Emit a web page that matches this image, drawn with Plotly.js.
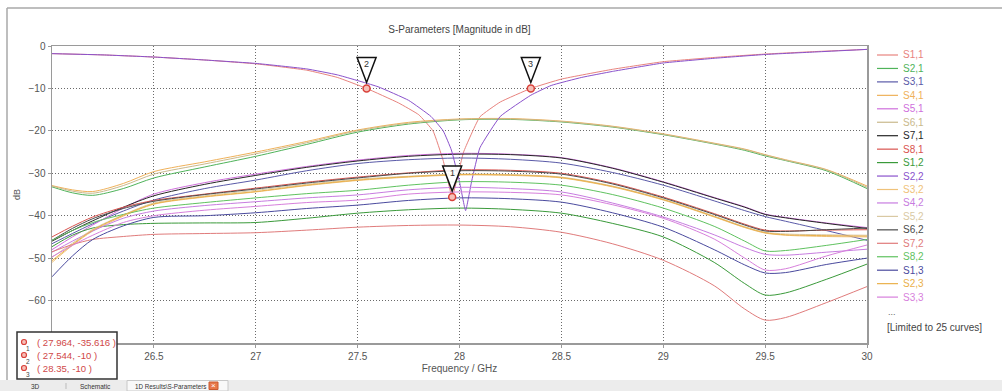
<!DOCTYPE html>
<html>
<head>
<meta charset="utf-8">
<script src="https://cdn.plot.ly/plotly-3.0.1.min.js"></script>
<style>html,body{margin:0;padding:0;background:#fff;}#chart{width:1002px;height:391px;}</style>
</head>
<body>
<div id="chart"></div>
<script>
// ---------------- DATA ----------------
const freq = [26, 26.1, 26.2, 26.35, 26.5, 26.75, 27, 27.25, 27.5, 27.75, 28, 28.25, 28.5, 28.75, 29, 29.25, 29.4, 29.5, 29.6, 29.8, 30];

const freqS11 = [26, 26.25, 26.5, 26.75, 27, 27.25, 27.4, 27.544, 27.7, 27.8, 27.87, 27.92, 27.964, 27.99, 28.02, 28.1, 28.2, 28.35, 28.5, 28.75, 29, 29.25, 29.5, 29.75, 30];
const s11 = [-1.8, -2.1, -2.6, -3.3, -4.2, -5.7, -7.4, -10, -13.4, -16.2, -20, -27, -35.616, -30.9, -25, -16.7, -13.2, -10, -7.8, -5.5, -3.7, -2.7, -1.9, -1.3, -0.8];

const freqS22 = [26, 26.25, 26.5, 26.75, 27, 27.25, 27.4, 27.6, 27.75, 27.86, 27.92, 27.96, 28.0, 28.03, 28.06, 28.1, 28.2, 28.35, 28.45, 28.6, 28.75, 29, 29.25, 29.5, 29.75, 30];
const s22 = [-1.8, -2.1, -2.6, -3.3, -4.1, -5.4, -6.8, -9.6, -12.8, -16.6, -20, -24.5, -32, -38.8, -31.8, -24, -16.6, -11.6, -9.3, -7.4, -6.0, -4.0, -2.9, -2.0, -1.4, -0.8];

const s21 = [-33.2, -34.6, -35.2, -33.6, -31.1, -28.5, -26.0, -23.2, -20.3, -18.4, -17.4, -17.3, -17.9, -19.1, -20.9, -23.1, -24.6, -25.9, -27.0, -29.4, -33.6];
const s41 = [-32.9, -33.9, -34.3, -32.4, -29.6, -27.3, -25.0, -22.5, -19.8, -18.0, -17.2, -17.1, -17.7, -18.9, -20.7, -22.9, -24.3, -25.6, -26.8, -29.1, -33.0];
const s61 = [-33.0, -34.2, -34.7, -32.9, -30.2, -27.8, -25.4, -22.8, -20.0, -18.2, -17.3, -17.2, -17.8, -19.0, -20.8, -23.0, -24.4, -25.7, -26.9, -29.2, -33.3];
const s71 = [-46.0, -43.5, -41.2, -38.0, -35.3, -32.6, -30.5, -28.6, -27.1, -26.0, -25.5, -25.6, -26.4, -28.8, -32.1, -35.8, -38.0, -39.7, -40.5, -41.8, -43.0];
const s51 = [-48.0, -45.0, -42.2, -38.2, -34.9, -32.2, -30.2, -28.4, -26.9, -25.8, -25.3, -25.5, -26.3, -28.7, -32.0, -35.7, -37.9, -39.6, -40.4, -41.7, -42.8];
const s31 = [-46.6, -44.2, -41.9, -38.9, -36.3, -33.6, -31.6, -29.4, -27.7, -26.8, -26.4, -26.7, -27.6, -29.8, -32.8, -36.5, -38.8, -40.2, -41.3, -43.5, -45.8];
const s81 = [-45.0, -42.5, -40.3, -38.0, -36.4, -34.9, -33.5, -32.1, -30.9, -29.9, -29.2, -29.3, -30.0, -32.3, -35.6, -39.5, -42.0, -43.4, -43.6, -43.4, -43.3];
const s62 = [-45.8, -43.0, -40.7, -38.3, -36.6, -35.0, -33.7, -32.3, -31.1, -30.0, -29.4, -29.5, -30.2, -32.5, -35.8, -39.7, -42.2, -43.6, -43.7, -43.3, -42.9];
const s32 = [-51.0, -47.0, -43.6, -40.1, -37.3, -35.6, -34.4, -32.9, -31.7, -30.9, -30.4, -30.5, -31.1, -33.2, -36.3, -40.3, -42.8, -44.1, -44.6, -44.9, -45.0];
const s23 = [-50.6, -46.8, -43.4, -39.9, -37.2, -35.5, -34.3, -32.8, -31.6, -30.8, -30.3, -30.4, -31.0, -33.1, -36.2, -40.2, -42.7, -44.0, -44.5, -44.7, -44.8];
const s52 = [-49.8, -46.5, -43.2, -39.8, -37.0, -35.3, -34.0, -32.6, -31.4, -30.7, -30.2, -30.3, -30.9, -33.0, -36.1, -40.1, -42.6, -43.9, -44.3, -44.5, -44.6];
const s82 = [-45.8, -43.5, -41.6, -39.7, -38.2, -36.9, -35.8, -34.8, -34.0, -32.8, -32.0, -32.1, -32.8, -35.0, -38.2, -42.5, -46.0, -48.3, -48.2, -47.0, -45.6];
const s42 = [-48.6, -46.0, -43.6, -40.6, -38.9, -37.6, -36.7, -35.8, -35.1, -33.9, -33.3, -33.6, -34.4, -37.0, -40.3, -44.5, -47.5, -49.1, -49.3, -48.6, -47.9];
const s33 = [-49.7, -47.0, -44.6, -41.6, -40.0, -38.7, -37.8, -36.9, -36.3, -34.9, -34.4, -34.5, -35.1, -37.4, -40.6, -45.5, -50.0, -52.8, -52.5, -49.5, -46.9];
const s13 = [-54.4, -49.5, -45.6, -42.4, -40.4, -40.0, -39.3, -38.3, -37.5, -36.4, -35.8, -36.0, -36.8, -39.3, -42.7, -48.0, -51.6, -53.5, -53.4, -51.5, -50.0];
const s12 = [-47.3, -44.6, -42.9, -42.1, -41.8, -41.7, -41.6, -40.6, -39.4, -38.6, -38.2, -38.5, -39.4, -41.8, -45.0, -51.0, -56.0, -58.7, -58.2, -55.0, -51.4];
const s72 = [-48.5, -46.8, -45.6, -44.9, -44.4, -44.2, -44.0, -43.4, -42.7, -42.3, -42.2, -42.6, -43.9, -46.6, -50.5, -56.5, -62.0, -64.6, -64.0, -60.5, -56.7];

const legendNames = ['S1,1','S2,1','S3,1','S4,1','S5,1','S6,1','S7,1','S8,1','S1,2','S2,2','S3,2','S4,2','S5,2','S6,2','S7,2','S8,2','S1,3','S2,3','S3,3'];
const lineColors = ['#e8837e','#4fb35a','#5a5aa8','#efb15a','#cf6fdc','#c9b98c','#262626','#d9534f','#3a9a3a','#8a52cc','#efc27a','#c77ce0','#d9c9a3','#4a4a4a','#e07b7b','#5fc25f','#4a4a9e','#eab04a','#d77fdc'];

const markerFreq = [27.964, 27.544, 28.35];
const markerDb = [-35.616, -10, -10];
const markerLabels = ['1', '2', '3'];

const xTicks = [26.5, 27, 27.5, 28, 28.5, 29, 29.5, 30];
const yTicks = [-60, -50, -40, -30, -20, -10, 0];

// ---------------- BUILD ----------------
const seriesX = {'S1,1': freqS11, 'S2,2': freqS22};
const seriesY = {'S1,1': s11, 'S2,1': s21, 'S3,1': s31, 'S4,1': s41, 'S5,1': s51, 'S6,1': s61, 'S7,1': s71, 'S8,1': s81,
  'S1,2': s12, 'S2,2': s22, 'S3,2': s32, 'S4,2': s42, 'S5,2': s52, 'S6,2': s62, 'S7,2': s72, 'S8,2': s82,
  'S1,3': s13, 'S2,3': s23, 'S3,3': s33};

const FONT = 'Liberation Sans, Arial, sans-serif';
const PL = 52, PR = 867, PT = 46, PB = 343;
const px = x => (x - PL) / (PR - PL);
const py = y => (PB - y) / (PB - PT);

const traces = legendNames.map((n, i) => ({
  type: 'scatter', mode: 'lines', name: n,
  x: seriesX[n] || freq, y: seriesY[n],
  line: {color: lineColors[i], width: 1, shape: 'spline', smoothing: seriesX[n] ? 0.35 : 0.8},
  showlegend: false, hoverinfo: 'skip'
}));
traces.push({
  type: 'scatter', mode: 'markers', x: markerFreq, y: markerDb, showlegend: false, hoverinfo: 'skip',
  marker: {symbol: 'circle', size: 7, color: '#f6c0b8', line: {color: '#d9413a', width: 1.5}}
});

const shapes = [];
const annotations = [];
function note(x, y, text, size, color, xanchor) {
  annotations.push({xref:'paper', yref:'paper', x:px(x), y:py(y), xanchor:xanchor || 'center', yanchor:'middle',
    showarrow:false, text:text, borderpad:0, font:{family:FONT, size:size, color:color}});
}

// outer frame
shapes.push({type:'line', xref:'paper', yref:'paper', x0:px(7), x1:px(1002), y0:py(8), y1:py(8), line:{color:'#a8a8a8', width:1.5}});
shapes.push({type:'line', xref:'paper', yref:'paper', x0:px(7), x1:px(7), y0:py(8), y1:py(380), line:{color:'#a8a8a8', width:1.5}});

// marker triangles
markerFreq.forEach((f, i) => {
  shapes.push({type:'path', xref:'x', yref:'y', xsizemode:'pixel', ysizemode:'pixel', xanchor:f, yanchor:markerDb[i],
    path:'M-9.5,31 L9.5,31 L0,6 Z', line:{color:'#111', width:1.5}, fillcolor:'rgba(255,255,255,0.9)', layer:'above'});
  annotations.push({x:f, y:markerDb[i], xref:'x', yref:'y', xanchor:'center', yanchor:'middle', text:markerLabels[i], showarrow:false, yshift:24,
    font:{family:FONT, size:9, color:'#333'}});
});

// manual legend
legendNames.forEach((n, i) => {
  const yy = 55 + i * 13.45;
  shapes.push({type:'line', xref:'paper', yref:'paper', x0:px(877), x1:px(898), y0:py(yy), y1:py(yy), line:{color:lineColors[i], width:1.2}});
  note(902, yy, n, 10, lineColors[i], 'left');
});
note(887, 312, '...', 9, '#666', 'left');
note(886, 327, '[Limited to 25 curves]', 10, '#444', 'left');

// marker info box
shapes.push({type:'rect', xref:'paper', yref:'paper', x0:px(17), x1:px(117), y0:py(379), y1:py(332), line:{color:'#333', width:1.5}, fillcolor:'#fff', layer:'above'});
markerFreq.forEach((f, i) => {
  const yy = 342 + i * 13;
  shapes.push({type:'circle', xref:'paper', yref:'paper', x0:px(21.5), x1:px(26.5), y0:py(yy+2.5), y1:py(yy-2.5), line:{color:'#d9413a', width:1.2}, fillcolor:'#f6c0b8', layer:'above'});
  note(25, yy + 6, markerLabels[i], 6.5, '#444', 'left');
  note(36, yy, '( ' + f + ', ' + markerDb[i] + ' )', 9.6, '#d04848', 'left');
});

// bottom tab bar
shapes.push({type:'rect', xref:'paper', yref:'paper', x0:px(0), x1:px(1002), y0:py(391), y1:py(380), line:{width:0}, fillcolor:'#ececec', layer:'above'});
shapes.push({type:'rect', xref:'paper', yref:'paper', x0:px(127), x1:px(228), y0:py(391), y1:py(380.5), line:{color:'#c8c8c8', width:1}, fillcolor:'#f9f9f9', layer:'above'});
shapes.push({type:'line', xref:'paper', yref:'paper', x0:px(66), x1:px(66), y0:py(383), y1:py(389), line:{color:'#bbb', width:1}});
shapes.push({type:'rect', xref:'paper', yref:'paper', x0:px(209), x1:px(218), y0:py(389.5), y1:py(382), line:{color:'#c85a30', width:1}, fillcolor:'#e8784a', layer:'above'});
note(35, 386, '3D', 6.5, '#333', 'center');
note(95, 386, 'Schematic', 6.5, '#333', 'center');
note(134, 386, '1D Results\\S-Parameters', 6.3, '#333', 'left');
note(213.5, 385.8, '×', 8, '#fff', 'center');

const axisCommon = {
  showgrid: true, gridcolor: '#6a6a6a', griddash: '1px,2px', gridwidth: 1,
  showline: true, linecolor: '#9a9a9a', linewidth: 1.5, mirror: true,
  ticks: 'outside', ticklen: 3, tickcolor: '#9a9a9a', zeroline: false,
  tickfont: {family: FONT, size: 10, color: '#555'}, automargin: false
};

const layout = {
  width: 1002, height: 391,
  margin: {l: PL, r: 1002 - PR, t: PT, b: 391 - PB, pad: 0},
  paper_bgcolor: '#fff', plot_bgcolor: '#fff',
  showlegend: false,
  title: {text: 'S-Parameters [Magnitude in dB]', font: {family: FONT, size: 10, color: '#444'},
    x: 0.5, xref: 'paper', xanchor: 'center', y: 1 - 29 / 391, yref: 'container', yanchor: 'middle'},
  xaxis: Object.assign({}, axisCommon, {range: [26, 30], tickvals: xTicks,
    title: {text: 'Frequency / GHz', font: {family: FONT, size: 10, color: '#555'}, standoff: 4}}),
  yaxis: Object.assign({}, axisCommon, {range: [-70, 0], tickvals: yTicks,
    title: {text: 'dB', font: {family: FONT, size: 9, color: '#555'}, standoff: 6}}),
  shapes: shapes,
  annotations: annotations
};

Plotly.newPlot('chart', traces, layout, {displayModeBar: false, staticPlot: true});
</script>
</body>
</html>
